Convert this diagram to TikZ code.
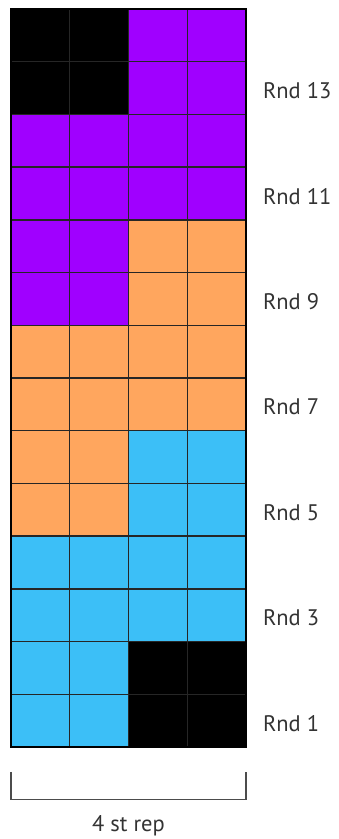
\documentclass[tikz,border=0pt]{standalone}
\usepackage{fontspec}
\setmainfont{PT Sans}
\usepackage{tikz}

\definecolor{cblue}{HTML}{3CBFF7}
\definecolor{corange}{HTML}{FFA65E}
\definecolor{cpurple}{HTML}{A000FF}

\tikzset{
  cell/.style={draw=black!85, line width=1.5pt},
  rnd/.style={anchor=west, font=\fontsize{22.5}{26}\selectfont, text=black!80, inner sep=0pt},
  bracket/.style={draw=black!70, line width=1.3pt}
}

\begin{document}
\begin{tikzpicture}[x=58.75pt,y=52.71pt]
    \useasboundingbox (-0.187,-1.745) rectangle (5.566,14.171);

    %cells, bottom row first: left pair / right pair
    \foreach \r/\colA/\colB in {0/cblue/black, 1/cblue/black,
                                2/cblue/cblue, 3/cblue/cblue,
                                4/corange/cblue, 5/corange/cblue,
                                6/corange/corange, 7/corange/corange,
                                8/cpurple/corange, 9/cpurple/corange,
                                10/cpurple/cpurple, 11/cpurple/cpurple,
                                12/black/cpurple, 13/black/cpurple}{
        \filldraw[cell, fill=\colA] (0,\r) rectangle ++(1,1);
        \filldraw[cell, fill=\colA] (1,\r) rectangle ++(1,1);
        \filldraw[cell, fill=\colB] (2,\r) rectangle ++(1,1);
        \filldraw[cell, fill=\colB] (3,\r) rectangle ++(1,1);
    }
    \draw[cell, draw=black] (0,0) rectangle (4,14);

    %round labels
    \foreach \n in {1,3,...,13}
        \node[rnd] (rnd\n) at (4.29,{\n-0.55}) {Rnd \n};

    %repeat bracket
    \draw[bracket] (0,-0.47) -- (0,-0.99) -- (4,-0.99) -- (4,-0.47);
    \node[font=\fontsize{22.5}{26}\selectfont, text=black!80] (rep) at (2,-1.49) {4 st rep};

\end{tikzpicture}
\end{document}
